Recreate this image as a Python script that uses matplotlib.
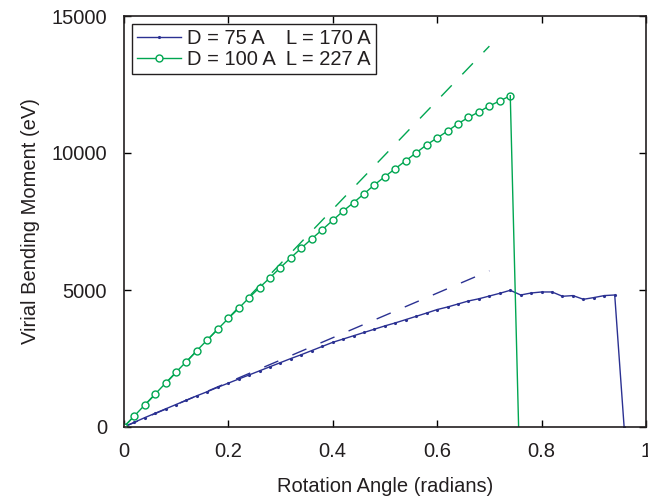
import matplotlib
matplotlib.use("Agg")
import matplotlib.pyplot as plt

plt.rcParams["font.family"] = ["Liberation Sans", "DejaVu Sans"]

# small rod: D = 75 A, L = 170 A
angle_small = [0.0, 0.02, 0.04, 0.06, 0.08, 0.10, 0.12, 0.14, 0.16, 0.18,
               0.20, 0.22, 0.24, 0.26, 0.28, 0.30, 0.32, 0.34, 0.36, 0.38,
               0.40, 0.42, 0.44, 0.46, 0.48, 0.50, 0.52, 0.54, 0.56, 0.58,
               0.60, 0.62, 0.64, 0.66, 0.68, 0.70, 0.72, 0.74, 0.76, 0.78,
               0.80, 0.82, 0.84, 0.86, 0.88, 0.90, 0.92, 0.94, 0.958]
moment_small = [0, 170, 340, 500, 660, 820, 980, 1140, 1290, 1450,
                1600, 1750, 1900, 2050, 2200, 2350, 2500, 2640, 2790, 2940,
                3090, 3210, 3330, 3450, 3570, 3690, 3800, 3920, 4040, 4160,
                4286, 4380, 4490, 4600, 4680, 4780, 4880, 4989, 4818, 4891,
                4928, 4928, 4771, 4796, 4661, 4723, 4796, 4818, 0]

# large rod: D = 100 A, L = 227 A
angle_large = [0.0, 0.02, 0.04, 0.06, 0.08, 0.10, 0.12, 0.14, 0.16, 0.18,
               0.20, 0.22, 0.24, 0.26, 0.28, 0.30, 0.32, 0.34, 0.36, 0.38,
               0.40, 0.42, 0.44, 0.46, 0.48, 0.50, 0.52, 0.54, 0.56, 0.58,
               0.60, 0.62, 0.64, 0.66, 0.68, 0.70, 0.72, 0.74]
moment_large = [0, 400, 800, 1200, 1600, 2000, 2390, 2790, 3180, 3570,
                3960, 4330, 4720, 5090, 5450, 5820, 6180, 6530, 6870, 7200,
                7540, 7880, 8190, 8510, 8840, 9140, 9430, 9720, 10010, 10300,
                10550, 10800, 11070, 11300, 11500, 11720, 11900, 12090]
# failure: drop to zero after the last point
fail_angle_large = [0.74, 0.756]
fail_moment_large = [12090, 0]

# linear (small-angle) fits, shown dashed
fit_angle = [0.0, 0.70]
fit_small = [0, 5700]
fit_large = [0, 13900]

blue = "#2b3192"
green = "#00a651"
text_color = "#231f20"

fig = plt.figure(figsize=(6.48, 5.0), dpi=100)
ax = fig.add_axes([0.191, 0.146, 0.806, 0.822])

ax.plot(fit_angle, fit_small, color=blue, linestyle=(0, (11, 11)), linewidth=1)
ax.plot(fit_angle, fit_large, color=green, linestyle=(0, (11, 11)), linewidth=1)

ax.plot(angle_small, moment_small, color=blue, linewidth=1, marker=".",
        markersize=2.5, label="D = 75 A    L = 170 A")
ax.plot(angle_large, moment_large, color=green, linewidth=1, marker="o",
        markersize=5, markerfacecolor="white", markeredgewidth=1,
        label="D = 100 A  L = 227 A")
ax.plot(fail_angle_large, fail_moment_large, color=green, linewidth=1)

ax.set_xlim(0, 1)
ax.set_ylim(0, 15000)
ax.set_xticks([0, 0.2, 0.4, 0.6, 0.8, 1])
ax.set_xticklabels(["0", "0.2", "0.4", "0.6", "0.8", "1"])
ax.set_yticks([0, 5000, 10000, 15000])
ax.tick_params(direction="in", top=True, right=True, length=5, width=1,
               labelsize=14.5, labelcolor=text_color)
ax.tick_params(axis="x", pad=11)
ax.tick_params(axis="y", pad=12)
for s in ax.spines.values():
    s.set_linewidth(1.2)
    s.set_color(text_color)

ax.set_xlabel("Rotation Angle (radians)", fontsize=14.5, color=text_color,
              labelpad=11)
ax.set_ylabel("Virial Bending Moment (eV)", fontsize=14.5, color=text_color,
              labelpad=8)

leg = ax.legend(loc="upper left", fontsize=14.5, handlelength=2.2,
                fancybox=False, edgecolor=text_color, framealpha=1,
                borderaxespad=0.4, labelspacing=0.1, handletextpad=0.3,
                borderpad=0.25)
leg.get_frame().set_linewidth(1)
for t in leg.get_texts():
    t.set_color(text_color)

fig.savefig("out.png", dpi=100)
